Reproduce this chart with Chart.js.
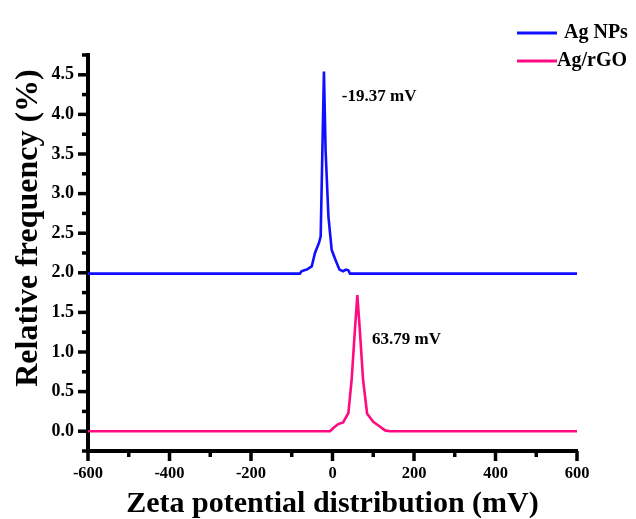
<!DOCTYPE html>
<html>
<head>
<meta charset="utf-8">
<script src="https://cdn.jsdelivr.net/npm/chart.js@4.4.0/dist/chart.umd.min.js"></script>
<style>
  html, body { margin: 0; padding: 0; background: #fff; }
  #wrap { width: 636px; height: 519px; }
</style>
</head>
<body>
<div id="wrap"><canvas id="zetaChart" width="636" height="519"></canvas></div>
<script>
// Ag NPs (plotted with +2.0 offset)
const agX = [-600, -80, -76, -71, -63, -51, -43, -33, -29, -21, -17, -10, -2, 6, 17, 26, 33, 39, 43, 600];
const agY = [1.99, 1.99, 2.02, 2.03, 2.04, 2.08, 2.25, 2.38, 2.46, 4.54, 3.55, 2.71, 2.29, 2.18, 2.04, 2.02, 2.04, 2.03, 1.99, 1.99];

// Ag/rGO
const rgoX = [-600, -6, 2, 14, 26, 39, 47, 55, 61, 67, 75, 85, 100, 116, 129, 141, 600];
const rgoY = [0, 0, 0.04, 0.09, 0.11, 0.23, 0.65, 1.28, 1.72, 1.28, 0.65, 0.22, 0.12, 0.06, 0.01, 0, 0];

const seriesLabels = ["Ag NPs", "Ag/rGO"];
const peakLabels = ["-19.37 mV", "63.79 mV"];
const peakLabelPos = [[23, 4.23], [97, 1.16]];

const xTicks = [-600, -500, -400, -300, -200, -100, 0, 100, 200, 300, 400, 500, 600];
const yTicks = [-0.25, 0, 0.25, 0.5, 0.75, 1, 1.25, 1.5, 1.75, 2, 2.25, 2.5, 2.75, 3, 3.25, 3.5, 3.75, 4, 4.25, 4.5, 4.75];

const FONT = "'Liberation Serif', 'Times New Roman', serif";
const colors = ['#1010ff', '#ff0a80'];

function toPoints(xs, ys) {
    return xs.map((x, i) => ({ x: x, y: ys[i] }));
}

// major/minor tick marks drawn outward, like Origin
const tickMarks = {
    id: 'tickMarks',
    afterDraw(chart) {
        const ctx = chart.ctx;
        const xs = chart.scales.x, ys = chart.scales.y;
        ctx.save();
        ctx.strokeStyle = '#000';
        ctx.lineWidth = 3.5;
        ctx.lineCap = 'butt';
        xTicks.forEach(v => {
            const px = xs.getPixelForValue(v);
            const len = (v % 200 === 0) ? 10 : 6;
            ctx.beginPath();
            ctx.moveTo(px, xs.top);
            ctx.lineTo(px, xs.top + len);
            ctx.stroke();
        });
        yTicks.forEach(v => {
            const py = ys.getPixelForValue(v);
            const len = (Math.abs(v * 2 - Math.round(v * 2)) < 1e-6) ? 10 : 6;
            ctx.beginPath();
            ctx.moveTo(ys.right, py);
            ctx.lineTo(ys.right - len, py);
            ctx.stroke();
        });
        ctx.restore();
    }
};

// legend top-right, peak labels, y axis title (sits a bit above centre, as in the original)
const extras = {
    id: 'extras',
    afterDraw(chart) {
        const ctx = chart.ctx;
        ctx.save();
        ctx.font = 'bold 20px ' + FONT;
        ctx.textBaseline = 'middle';
        ctx.fillStyle = '#000';
        const legY = [33, 61];
        seriesLabels.forEach((lab, i) => {
            ctx.strokeStyle = colors[i];
            ctx.lineWidth = 3;
            ctx.beginPath();
            ctx.moveTo(517, legY[i]);
            ctx.lineTo(557, legY[i]);
            ctx.stroke();
            ctx.fillText(lab, i === 0 ? 564 : 557, legY[i]);
        });
        ctx.font = 'bold 17px ' + FONT;
        peakLabels.forEach((lab, i) => {
            const px = chart.scales.x.getPixelForValue(peakLabelPos[i][0]);
            const py = chart.scales.y.getPixelForValue(peakLabelPos[i][1]);
            ctx.fillText(lab, px, py);
        });

        ctx.translate(29, 228);
        ctx.rotate(-Math.PI / 2);
        ctx.textAlign = 'center';
        ctx.font = 'bold 32px ' + FONT;
        ctx.fillText('Relative frequency (%)', 0, 0);
        ctx.restore();
    }
};

var ctx = document.getElementById('zetaChart').getContext('2d');
const zetaChart = new Chart(ctx, {
    type: 'scatter',
    data: {
        datasets: [
            {
                label: seriesLabels[0],
                data: toPoints(agX, agY),
                showLine: true,
                borderColor: colors[0],
                borderWidth: 2.6,
                pointRadius: 0,
                tension: 0
            },
            {
                label: seriesLabels[1],
                data: toPoints(rgoX, rgoY),
                showLine: true,
                borderColor: colors[1],
                borderWidth: 2.6,
                pointRadius: 0,
                tension: 0
            }
        ]
    },
    options: {
        responsive: false,
        animation: false,
        layout: { padding: { top: 55, right: 59, left: 0, bottom: 0 } },
        plugins: {
            legend: { display: false },
            tooltip: { enabled: false }
        },
        scales: {
            x: {
                type: 'linear',
                min: -600,
                max: 600,
                afterBuildTicks: s => { s.ticks = xTicks.map(v => ({ value: v })); },
                afterFit: s => { s.height = 68; },
                ticks: {
                    color: '#000',
                    font: { family: FONT, size: 16.5, weight: 'bold' },
                    padding: 3,
                    maxRotation: 0,
                    autoSkip: false,
                    callback: v => (v % 200 === 0 ? String(v) : '')
                },
                grid: { drawOnChartArea: false, tickLength: 10, tickColor: 'rgba(0,0,0,0)' },
                border: { display: true, color: '#000', width: 4 },
                title: {
                    display: true,
                    text: 'Zeta potential distribution (mV)',
                    color: '#000',
                    font: { family: FONT, size: 30, weight: 'bold' },
                    padding: { top: 0, bottom: -3 }
                }
            },
            y: {
                type: 'linear',
                min: -0.25,
                max: 4.75,
                afterBuildTicks: s => { s.ticks = yTicks.map(v => ({ value: v })); },
                afterFit: s => { s.width = 88; },
                ticks: {
                    color: '#000',
                    font: { family: FONT, size: 18, weight: 'bold' },
                    padding: 4,
                    autoSkip: false,
                    callback: v => {
                        const major = Math.abs(v * 2 - Math.round(v * 2)) < 1e-6;
                        return (major && v >= 0 && v <= 4.5) ? v.toFixed(1) : '';
                    }
                },
                grid: { drawOnChartArea: false, tickLength: 10, tickColor: 'rgba(0,0,0,0)' },
                border: { display: true, color: '#000', width: 4 },
                title: { display: false }
            }
        }
    },
    plugins: [tickMarks, extras]
});
</script>
</body>
</html>
